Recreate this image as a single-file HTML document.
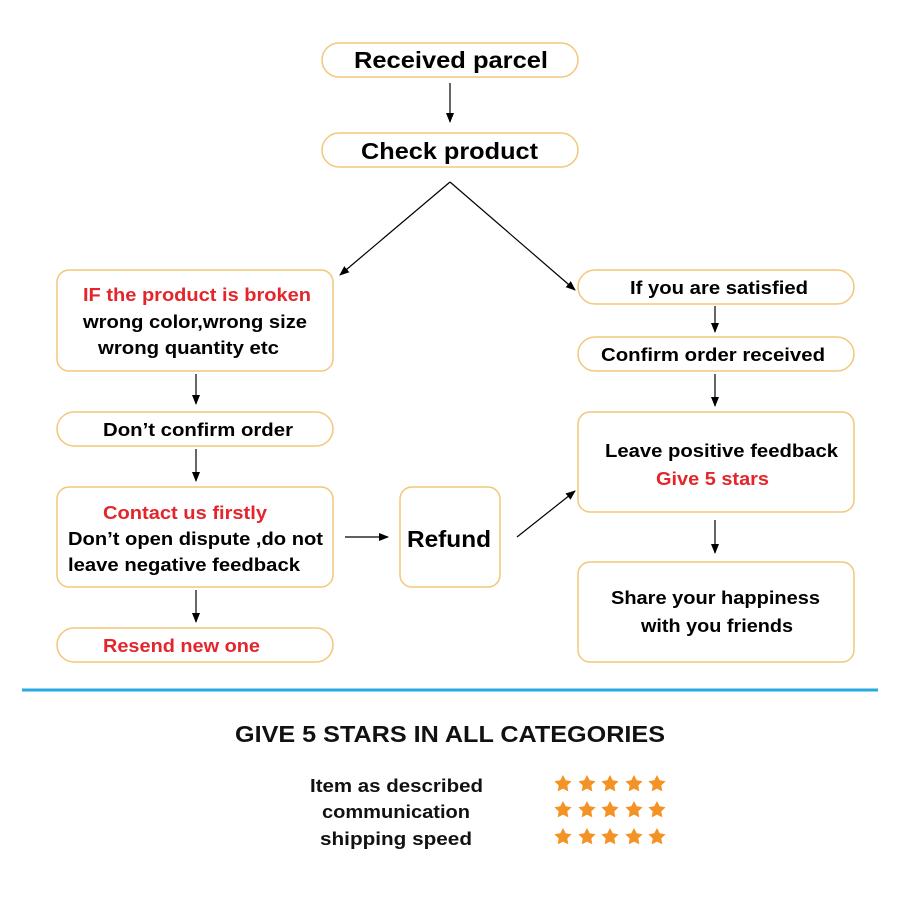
<!DOCTYPE html>
<html><head><meta charset="utf-8"><style>
html,body{margin:0;padding:0;background:#fff;}
svg{display:block;}
text{font-family:"Liberation Sans",Arial,sans-serif;font-weight:bold;}
</style></head><body>
<svg width="900" height="900" viewBox="0 0 900 900" xmlns="http://www.w3.org/2000/svg">
<defs>
<marker id="a" markerWidth="10" markerHeight="10" refX="9" refY="5" orient="auto" markerUnits="userSpaceOnUse">
<path d="M0,1 L10,5 L0,9 Z" fill="#000"/></marker>
<polygon id="s" points="0,-9 2.7,-3.7 8.6,-2.8 4.3,1.4 5.3,7.4 0,4.6 -5.3,7.4 -4.3,1.4 -8.6,-2.8 -2.7,-3.7" fill="#f39325"/>
</defs>
<g fill="#fff" stroke="#f2c77a" stroke-width="1.5">
<rect x="322" y="43" width="256" height="34" rx="17"/>
<rect x="322" y="133" width="256" height="34" rx="17"/>
<rect x="57" y="270" width="276" height="101" rx="12"/>
<rect x="57" y="412" width="276" height="34" rx="17"/>
<rect x="57" y="487" width="276" height="100" rx="12"/>
<rect x="57" y="628" width="276" height="34" rx="17"/>
<rect x="400" y="487" width="100" height="100" rx="12"/>
<rect x="578" y="270" width="276" height="34" rx="17"/>
<rect x="578" y="337" width="276" height="34" rx="17"/>
<rect x="578" y="412" width="276" height="100" rx="12"/>
<rect x="578" y="562" width="276" height="100" rx="12"/>
</g>
<g stroke="#000" stroke-width="1.2" marker-end="url(#a)">
<line x1="450" y1="83" x2="450" y2="122"/>
<line x1="450" y1="182" x2="340" y2="275"/>
<line x1="450" y1="182" x2="575" y2="290"/>
<line x1="196" y1="374" x2="196" y2="404"/>
<line x1="196" y1="449" x2="196" y2="481"/>
<line x1="196" y1="590" x2="196" y2="622"/>
<line x1="345" y1="537" x2="388" y2="537"/>
<line x1="517" y1="537" x2="575" y2="491"/>
<line x1="715" y1="306" x2="715" y2="332"/>
<line x1="715" y1="374" x2="715" y2="406"/>
<line x1="715" y1="520" x2="715" y2="553"/>
</g>
<g font-size="23" fill="#000" lengthAdjust="spacingAndGlyphs">
<text x="354" y="68" textLength="194" lengthAdjust="spacingAndGlyphs">Received parcel</text>
<text x="361" y="159" textLength="177" lengthAdjust="spacingAndGlyphs">Check product</text>
<text x="407" y="547" textLength="84" lengthAdjust="spacingAndGlyphs">Refund</text>
</g>
<g font-size="18" fill="#000">
<text x="83" y="301" fill="#e3262b" textLength="228" lengthAdjust="spacingAndGlyphs">IF the product is broken</text>
<text x="83" y="328" textLength="224" lengthAdjust="spacingAndGlyphs">wrong color,wrong size</text>
<text x="98" y="354" textLength="181" lengthAdjust="spacingAndGlyphs">wrong quantity etc</text>
<text x="103" y="436" textLength="190" lengthAdjust="spacingAndGlyphs">Don’t confirm order</text>
<text x="103" y="519" fill="#e3262b" textLength="164" lengthAdjust="spacingAndGlyphs">Contact us firstly</text>
<text x="68" y="545" textLength="255" lengthAdjust="spacingAndGlyphs">Don’t open dispute ,do not</text>
<text x="68" y="571" textLength="232" lengthAdjust="spacingAndGlyphs">leave negative feedback</text>
<text x="103" y="652" fill="#e3262b" textLength="157" lengthAdjust="spacingAndGlyphs">Resend new one</text>
<text x="630" y="294" textLength="178" lengthAdjust="spacingAndGlyphs">If you are satisfied</text>
<text x="601" y="361" textLength="224" lengthAdjust="spacingAndGlyphs">Confirm order received</text>
<text x="605" y="457" textLength="233" lengthAdjust="spacingAndGlyphs">Leave positive feedback</text>
<text x="656" y="485" fill="#e3262b" textLength="113" lengthAdjust="spacingAndGlyphs">Give 5 stars</text>
<text x="611" y="604" textLength="209" lengthAdjust="spacingAndGlyphs">Share your happiness</text>
<text x="641" y="632" textLength="152" lengthAdjust="spacingAndGlyphs">with you friends</text>
</g>
<line x1="22" y1="690" x2="878" y2="690" stroke="#29a8e0" stroke-width="3"/>
<text x="235" y="742" font-size="23" fill="#111" textLength="430" lengthAdjust="spacingAndGlyphs">GIVE 5 STARS IN ALL CATEGORIES</text>
<g font-size="18" fill="#111">
<text x="310" y="792" textLength="173" lengthAdjust="spacingAndGlyphs">Item as described</text>
<text x="322" y="818" textLength="148" lengthAdjust="spacingAndGlyphs">communication</text>
<text x="320" y="845" textLength="152" lengthAdjust="spacingAndGlyphs">shipping  speed</text>
</g>
<g>
<use href="#s" x="563" y="784"/><use href="#s" x="587" y="784"/><use href="#s" x="610" y="784"/><use href="#s" x="634" y="784"/><use href="#s" x="657" y="784"/>
<use href="#s" x="563" y="810"/><use href="#s" x="587" y="810"/><use href="#s" x="610" y="810"/><use href="#s" x="634" y="810"/><use href="#s" x="657" y="810"/>
<use href="#s" x="563" y="837"/><use href="#s" x="587" y="837"/><use href="#s" x="610" y="837"/><use href="#s" x="634" y="837"/><use href="#s" x="657" y="837"/>
</g>
</svg>
</body></html>
